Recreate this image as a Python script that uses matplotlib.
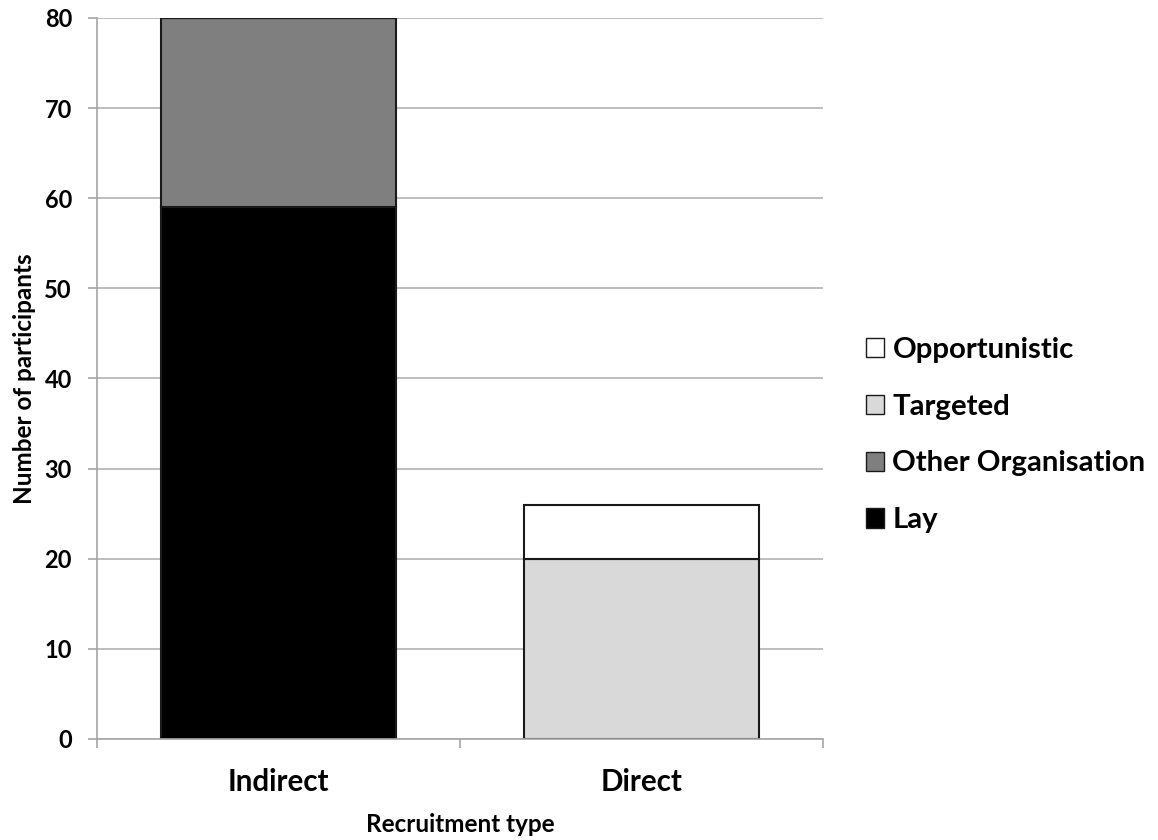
import matplotlib
matplotlib.use("Agg")
import matplotlib.pyplot as plt
from matplotlib.patches import Patch

categories = ["Indirect", "Direct"]
lay = [59, 0]
other_org = [21, 0]
targeted = [0, 20]
opportunistic = [0, 6]
y_ticks = [0, 10, 20, 30, 40, 50, 60, 70, 80]

fig = plt.figure(figsize=(11.58, 8.4), dpi=100)
ax = fig.add_axes([97 / 1158, 1 - 739 / 840, (823 - 97) / 1158, (739 - 18) / 840])

x = range(len(categories))
w = 0.645
edge = dict(edgecolor="#1a1a1a", linewidth=1.5)
ax.bar(x, lay, w, color="#000000", label="Lay", **edge)
ax.bar(x, other_org, w, bottom=lay, color="#7f7f7f", label="Other Organisation", **edge)
bottom2 = [a + b for a, b in zip(lay, other_org)]
ax.bar(x, targeted, w, bottom=bottom2, color="#d9d9d9", label="Targeted", **edge)
bottom3 = [a + b for a, b in zip(bottom2, targeted)]
ax.bar(x, opportunistic, w, bottom=bottom3, color="#ffffff", label="Opportunistic", **edge)

ax.set_xlim(-0.5, 1.5)
ax.set_ylim(0, 80)
ax.set_yticks(y_ticks)
ax.set_yticklabels([str(v) for v in y_ticks], fontfamily="Lato",
                   fontweight="bold", fontsize=17)
ax.yaxis.grid(True, color="#b3b3b3", linewidth=1.2)
ax.set_axisbelow(True)

# category labels centred under each bar, ticks at category boundaries
ax.set_xticks([-0.5, 0.5, 1.5])
ax.set_xticklabels([])
ax.set_xticks(list(x), minor=True)
ax.set_xticklabels(categories, minor=True, fontfamily="Lato", fontweight="bold", fontsize=21.3)
ax.tick_params(axis="x", which="minor", length=0, pad=21)
ax.tick_params(axis="x", which="major", length=6.5, direction="out", color="#a6a6a6", width=1.2)
ax.tick_params(axis="y", length=6.5, direction="out", color="#a6a6a6", width=1.2, pad=11.5)

for s in ["top", "right"]:
    ax.spines[s].set_visible(False)
for s in ["left", "bottom"]:
    ax.spines[s].set_color("#a6a6a6")
    ax.spines[s].set_linewidth(1.2)

ax.set_ylabel("Number of participants", fontfamily="Lato", fontweight="bold", fontsize=17.5, va="center")
ax.yaxis.set_label_coords(-72 / 726, 0.5)
ax.set_xlabel("Recruitment type", fontfamily="Lato", fontweight="bold", fontsize=17.5, va="center")
ax.xaxis.set_label_coords(0.5, -85 / 721)

handles = [
    Patch(facecolor="#ffffff", edgecolor="#1a1a1a", label="Opportunistic"),
    Patch(facecolor="#d9d9d9", edgecolor="#1a1a1a", label="Targeted"),
    Patch(facecolor="#7f7f7f", edgecolor="#1a1a1a", label="Other Organisation"),
    Patch(facecolor="#000000", edgecolor="#1a1a1a", label="Lay"),
]
fig.legend(handles=handles, loc="center left", bbox_to_anchor=(866 / 1158, 1 - 435 / 840),
           frameon=False, prop=dict(family="Lato", weight="bold", size=21.2),
           borderpad=0, borderaxespad=0,
           handlelength=0.62, handleheight=0.62, handletextpad=0.28, labelspacing=1.05)

fig.savefig("out.png", dpi=100)
